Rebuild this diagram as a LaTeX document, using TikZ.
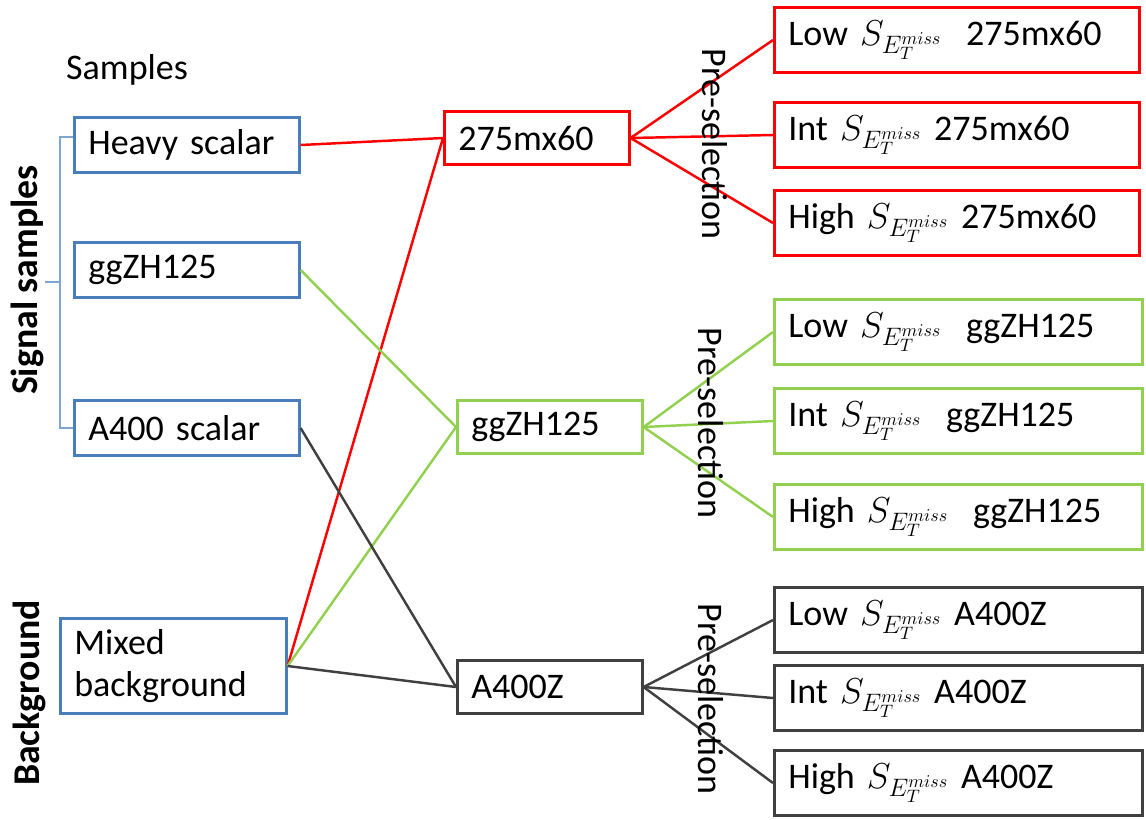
\RequirePackage{fix-cm}
\documentclass[tikz,border=0pt]{standalone}
\usepackage{fontspec}
\setmainfont{Carlito}
\usetikzlibrary{positioning}
\definecolor{sigblue}{HTML}{4A7EBB}
\definecolor{brkblue}{HTML}{7FA6D3}
\definecolor{selred}{HTML}{FF0000}
\definecolor{selgreen}{HTML}{92D050}
\definecolor{seldark}{HTML}{404040}
\newcommand{\smet}{$S_{E_T^{miss}}$}

\begin{document}
\begin{tikzpicture}[x=0.02cm, y=-0.02cm, every node/.style={font=\fontsize{20.5}{24}\selectfont},
  cellbox/.style={draw, line width=1.5pt, inner xsep=0.28cm, inner ysep=0pt, align=left, anchor=west},
  smpbox/.style={cellbox, draw=sigblue, text width=3.94cm, minimum height=1.1cm},
  midbox/.style={cellbox, text width=3.14cm, minimum height=1.06cm},
  binbox/.style={cellbox, text width=6.8cm, minimum height=1.3cm},
  sideflag/.style={rotate=90, font=\bfseries\fontsize{21.5}{25}\selectfont},
  conn/.style={line width=1.4pt}]
  \useasboundingbox (0,0) rectangle (1146,819);

  \node[anchor=base west] (samples) at (60,79) {Samples};
  \node[sideflag] (siglab) at (27,280) {Signal samples};
  \node[sideflag] (bkglab) at (29,693) {Background};

  \node[smpbox] (heavy) at (73,145) {Heavy scalar};
  \node[smpbox] (ggzh) at (73,270) {ggZH125};
  \node[smpbox] (a400) at (73,428) {A400 scalar};
  \node[smpbox, text width=3.96cm, minimum height=1.9cm] (mixed) at (59,666) {Mixed\\background};
  \draw[brkblue, line width=0.9pt] ([yshift=0.16cm]heavy.west) -| (60,282) |- (a400.west);
  \draw[brkblue, line width=0.9pt] (60,282) -- (45,282);

  \node[midbox, draw=selred] (m275) at (443,138) {275mx60};
  \node[midbox, draw=selgreen] (mgg) at (456,427) {ggZH125};
  \node[midbox, draw=seldark] (ma400) at (456,687) {A400Z};

  \node[binbox, draw=selred, text width=6.74cm] (low275) at (773,40) {Low \smet\ \ 275mx60};
  \node[binbox, draw=selred, text width=6.74cm] (int275) at (773,135) {Int \smet\ 275mx60};
  \node[binbox, draw=selred, text width=6.74cm] (high275) at (773,223) {High \smet\ 275mx60};
  \node[binbox, draw=selgreen] (lowgg) at (773,332) {Low \smet\ \ ggZH125};
  \node[binbox, draw=selgreen] (intgg) at (773,421) {Int \smet\ \ ggZH125};
  \node[binbox, draw=selgreen] (highgg) at (773,517) {High \smet\ \ ggZH125};
  \node[binbox, draw=seldark] (lowa4) at (773,620) {Low \smet\ A400Z};
  \node[binbox, draw=seldark] (inta4) at (773,698) {Int \smet\ A400Z};
  \node[binbox, draw=seldark] (higha4) at (773,783) {High \smet\ A400Z};

  \draw[conn, selred] (heavy.east) -- (m275.west);
  \draw[conn, selred] (mixed.east) -- (m275.west);
  \draw[conn, selgreen] (ggzh.east) -- (mgg.west);
  \draw[conn, selgreen] (mixed.east) -- (mgg.west);
  \draw[conn, seldark] (a400.east) -- (ma400.west);
  \draw[conn, seldark] (mixed.east) -- (ma400.west);

  \draw[conn, selred] (m275.east) -- (low275.west);
  \draw[conn, selred] (m275.east) -- (int275.west);
  \draw[conn, selred] (m275.east) -- (high275.west);
  \draw[conn, selgreen] (mgg.east) -- (lowgg.west);
  \draw[conn, selgreen] (mgg.east) -- (intgg.west);
  \draw[conn, selgreen] (mgg.east) -- (highgg.west);
  \draw[conn, seldark] (ma400.east) -- (lowa4.west);
  \draw[conn, seldark] (ma400.east) -- (inta4.west);
  \draw[conn, seldark] (ma400.east) -- (higha4.west);

  \node[rotate=-90] (pre275) at (715,144) {Pre-selection};
  \node[rotate=-90] (pregg) at (711,423) {Pre-selection};
  \node[rotate=-90] (prea4) at (711,699) {Pre-selection};
\end{tikzpicture}
\end{document}
